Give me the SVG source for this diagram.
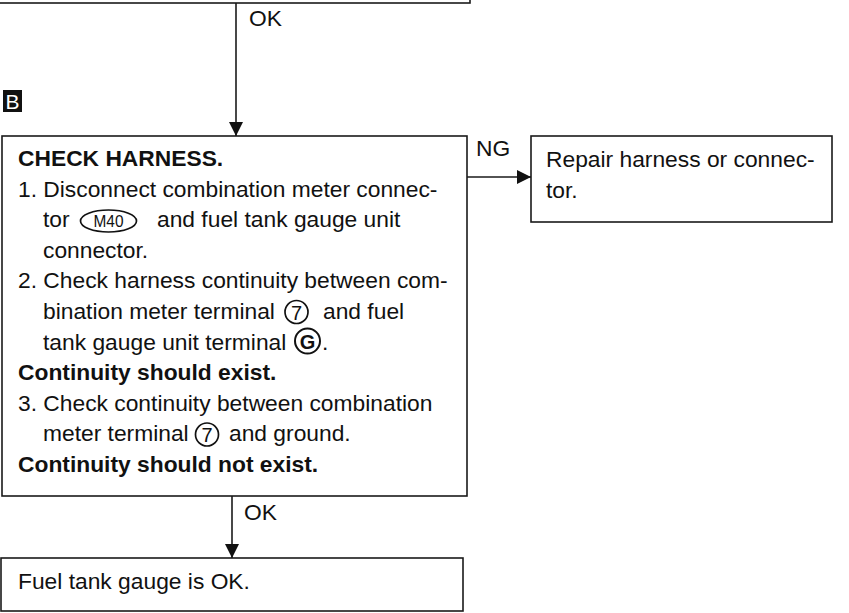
<svg xmlns="http://www.w3.org/2000/svg" width="849" height="613" viewBox="0 0 849 613">
<defs>
<style>
.box{fill:#fff;stroke:#1a1a1a;stroke-width:1.6}
.ln{stroke:#1a1a1a;stroke-width:1.6;fill:none}
.t{font-family:"Liberation Sans",Arial,sans-serif;font-size:22.8px;fill:#111}
.b{font-weight:bold}
.sym{fill:none;stroke:#111;stroke-width:1.7}
.st{font-family:"Liberation Sans",Arial,sans-serif;fill:#111;text-anchor:middle}
</style>
<marker id="ah" viewBox="0 0 14 14" refX="14" refY="7" markerWidth="14" markerHeight="14" markerUnits="userSpaceOnUse" orient="auto">
<path d="M0,0 L14,7 L0,14 Z" fill="#111"/>
</marker>
</defs>
<rect width="849" height="613" fill="#fff"/>

<g id="prev-node">
<rect class="box" x="-10" y="-20" width="480" height="23"/>
</g>

<g id="label-B">
<rect x="3" y="90" width="19" height="22" fill="#111"/>
<text x="12.5" y="109" class="st" style="font-size:21px;fill:#fff">B</text>
</g>

<g id="check-harness">
<rect class="box" x="2" y="136" width="465" height="360"/>
<text class="t b" x="18" y="166">CHECK HARNESS.</text>
<text class="t" x="18" y="196.6">1. Disconnect combination meter connec-</text>
<text class="t" x="43" y="227.2">tor</text>
<ellipse class="sym" cx="108.5" cy="221" rx="28" ry="11"/>
<text class="st" x="108.5" y="227" style="font-size:17px" textLength="30" lengthAdjust="spacingAndGlyphs">M40</text>
<text class="t" x="157" y="227.2">and fuel tank gauge unit</text>
<text class="t" x="43" y="257.8">connector.</text>
<text class="t" x="18" y="288.4">2. Check harness continuity between com-</text>
<text class="t" x="43" y="319">bination meter terminal</text>
<circle class="sym" cx="296.5" cy="312" r="11.5"/>
<text class="st" x="296.5" y="319.5" style="font-size:20px">7</text>
<text class="t" x="323" y="319">and fuel</text>
<text class="t" x="43" y="349.6">tank gauge unit terminal</text>
<circle class="sym" cx="307.5" cy="341" r="12.5" style="stroke-width:2"/>
<text class="st b" x="307.5" y="348.5" style="font-size:20px;font-weight:bold">G</text>
<text class="t" x="322" y="349.6">.</text>
<text class="t b" x="18" y="380.2">Continuity should exist.</text>
<text class="t" x="18" y="410.8">3. Check continuity between combination</text>
<text class="t" x="43" y="441.4">meter terminal</text>
<circle class="sym" cx="207" cy="434.5" r="11.5"/>
<text class="st" x="207" y="442" style="font-size:20px">7</text>
<text class="t" x="229" y="441.4">and ground.</text>
<text class="t b" x="18" y="472">Continuity should not exist.</text>
</g>

<g id="repair">
<rect class="box" x="531" y="136" width="301" height="86"/>
<text class="t" x="546" y="167">Repair harness or connec-</text>
<text class="t" x="546" y="198">tor.</text>
</g>

<g id="fuel-ok">
<rect class="box" x="1" y="558" width="462" height="53"/>
<text class="t" x="18" y="589">Fuel tank gauge is OK.</text>
</g>

<g id="connectors">
<line class="ln" x1="236" y1="3" x2="236" y2="136" marker-end="url(#ah)"/>
<text class="t" x="249" y="26">OK</text>
<line class="ln" x1="467" y1="177" x2="531" y2="177" marker-end="url(#ah)"/>
<text class="t" x="476" y="156">NG</text>
<line class="ln" x1="232" y1="496" x2="232" y2="558" marker-end="url(#ah)"/>
<text class="t" x="244" y="520">OK</text>
</g>
</svg>
